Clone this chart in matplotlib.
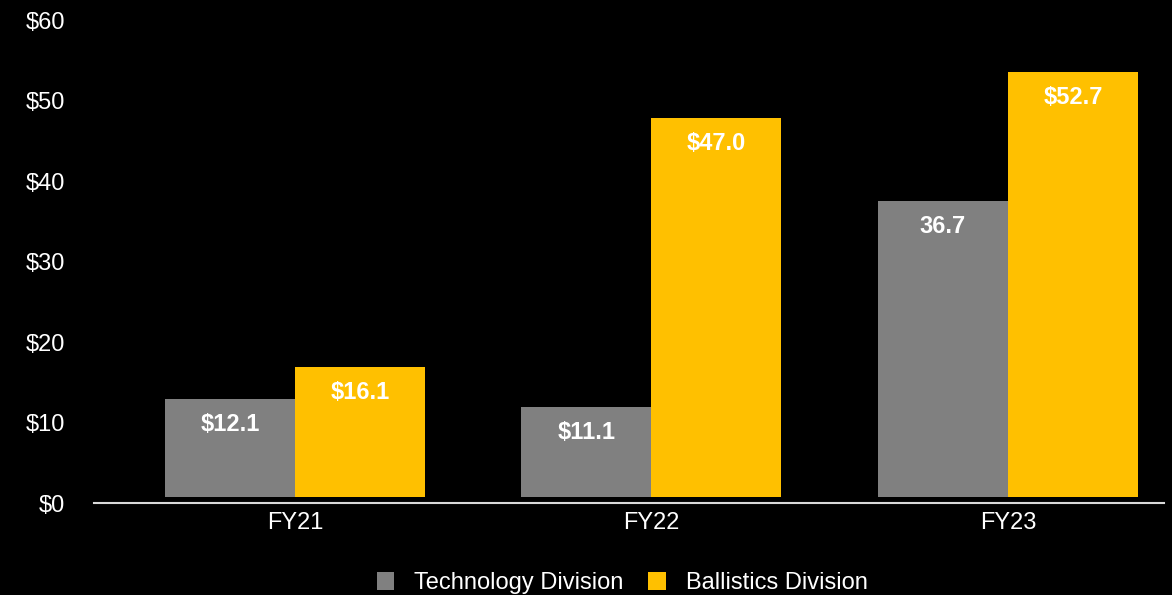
import numpy as np
import matplotlib
matplotlib.use('Agg')
import matplotlib.pyplot as plt
import matplotlib.transforms as mtransforms

years = ['FY21', 'FY22', 'FY23']
technology = [12.1, 11.1, 36.7]
ballistics = [16.1, 47.0, 52.7]
tech_labels = ['$12.1', '$11.1', '36.7']
ball_labels = ['$16.1', '$47.0', '$52.7']
yticks = [0, 10, 20, 30, 40, 50, 60]

plt.rcParams['font.family'] = ['Liberation Sans', 'DejaVu Sans']

fig = plt.figure(figsize=(11.72, 5.95), dpi=100, facecolor='black')
ax = fig.add_axes([0.0802, 0.1655, 0.913, 0.8118], facecolor='black')

for s in ['top', 'right', 'left']:
    ax.spines[s].set_visible(False)
ax.spines['bottom'].set_position(('outward', 5))
ax.spines['bottom'].set_color('#d9d9d9')
ax.spines['bottom'].set_linewidth(1.5)

x = np.arange(len(years))
w = 0.3647
b1 = ax.bar(x - w/2, technology, w, color='#808080', label='Technology Division')
b2 = ax.bar(x + w/2, ballistics, w, color='#FFC000', label='Ballistics Division')

for bars, labels in [(b1, tech_labels), (b2, ball_labels)]:
    for rect, lab in zip(bars, labels):
        ax.annotate(lab, (rect.get_x() + rect.get_width()/2, rect.get_height()),
                    xytext=(0, -18.5), textcoords='offset points',
                    ha='center', va='center', color='white',
                    fontsize=17, fontweight='bold')

ax.set_xlim(-0.564, 2.438)
ax.set_ylim(0, 60)
ax.set_xticks(x)
ax.set_xticklabels(years, fontsize=17)
ax.set_yticks(yticks)
ax.set_yticklabels(['$%d' % v for v in yticks], fontsize=17)
ax.tick_params(axis='both', length=0, labelcolor='white')
ax.tick_params(axis='x', pad=6)
ax.tick_params(axis='y', pad=21)

# y labels sit a bit lower than the bar base, like the source
off = mtransforms.ScaledTranslation(0, -6.5/100, fig.dpi_scale_trans)
for lbl in ax.get_yticklabels():
    lbl.set_transform(lbl.get_transform() + off)

leg = fig.legend(loc='center', bbox_to_anchor=(0.531, 0.02), ncol=2, frameon=False,
                 fontsize=17, handlelength=0.75, handleheight=0.75, columnspacing=1.05,
                 handletextpad=0.85)
for t in leg.get_texts():
    t.set_color('white')

fig.savefig('out.png', dpi=100, facecolor='black')
